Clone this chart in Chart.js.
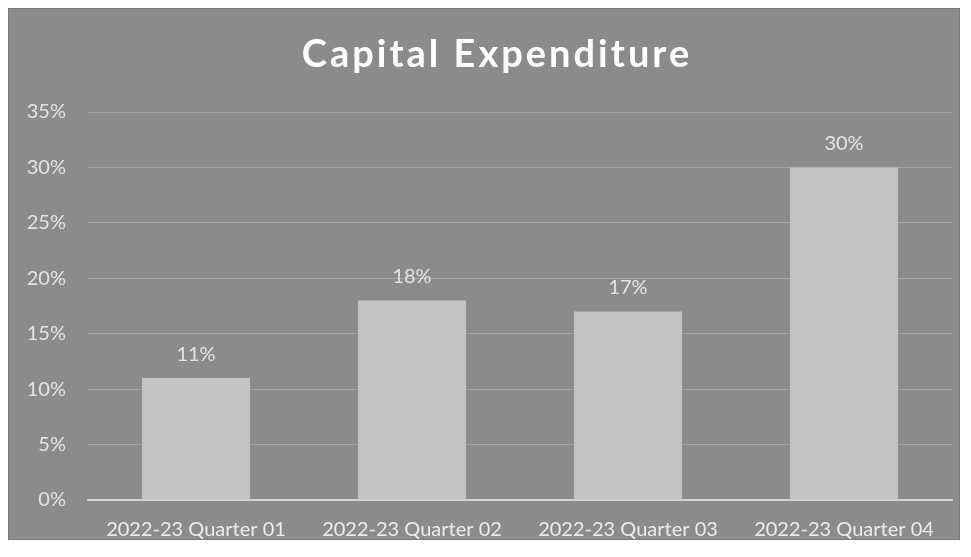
<!DOCTYPE html>
<html>
<head>
<meta charset="utf-8">
<script src="https://cdn.jsdelivr.net/npm/chart.js@4.4.0/dist/chart.umd.min.js"></script>
<style>
  html, body { margin: 0; padding: 0; background: #ffffff; }
  #panel {
    position: absolute; left: 8px; top: 8px;
    width: 952px; height: 532px;
    background: #8b8b8b;
    box-shadow: inset 0 0 0 1px #7a7a7a;
  }
  #panel canvas { display: block; }
</style>
</head>
<body>
<div id="panel"><canvas id="capex" width="952" height="532"></canvas></div>
<script>
const chartTitle = 'Capital Expenditure'
const quarters = ['2022-23 Quarter 01', '2022-23 Quarter 02', '2022-23 Quarter 03', '2022-23 Quarter 04']
const capexPct = [11, 18, 17, 30]
const yTicks = [0, 5, 10, 15, 20, 25, 30, 35]

const labelFont = 'Lato, "Open Sans", sans-serif'

// spaced-out bold heading over the plot
const heading = {
  id: 'heading',
  afterDraw(chart) {
    const ctx = chart.ctx
    ctx.save()
    ctx.font = 'bold 38px ' + labelFont
    ctx.letterSpacing = '3px'
    ctx.fillStyle = '#ffffff'
    ctx.textAlign = 'center'
    ctx.textBaseline = 'middle'
    ctx.fillText(chartTitle, 489, 47)
    ctx.restore()
  }
}

// value labels sitting above each bar
const barLabels = {
  id: 'barLabels',
  afterDatasetsDraw(chart) {
    const ctx = chart.ctx
    const meta = chart.getDatasetMeta(0)
    ctx.save()
    ctx.font = '20px ' + labelFont
    ctx.fillStyle = '#e4e4e4'
    ctx.textAlign = 'center'
    ctx.textBaseline = 'bottom'
    meta.data.forEach(function (bar, i) {
      ctx.fillText(capexPct[i] + '%', bar.x, bar.y - 14)
    })
    ctx.restore()
  }
}

new Chart(document.getElementById('capex'), {
  type: 'bar',
  data: {
    labels: quarters,
    datasets: [{
      data: capexPct,
      backgroundColor: '#c4c4c4',
      borderWidth: 0,
      categoryPercentage: 1,
      barPercentage: 0.5
    }]
  },
  options: {
    responsive: false,
    animation: false,
    devicePixelRatio: 1,
    layout: { padding: { left: 0, right: 8, top: 104, bottom: 0 } },
    plugins: {
      legend: { display: false },
      tooltip: { enabled: false },
      title: { display: false }
    },
    scales: {
      x: {
        afterFit(scale) { scale.height = 40 },
        grid: { display: false },
        border: { display: true, color: '#d4d4d4', width: 2 },
        ticks: {
          color: '#ececec',
          font: { family: labelFont, size: 20 },
          maxRotation: 0,
          padding: 10
        }
      },
      y: {
        min: 0,
        max: 35,
        afterFit(scale) { scale.width = 80 },
        afterBuildTicks(scale) { scale.ticks = yTicks.map(v => ({ value: v })) },
        grid: { color: 'rgba(200,200,200,0.45)', lineWidth: 1, drawTicks: false },
        border: { display: false },
        ticks: {
          color: '#e4e4e4',
          font: { family: labelFont, size: 20 },
          padding: 22,
          callback: v => v + '%'
        }
      }
    }
  },
  plugins: [barLabels, heading]
})
</script>
</body>
</html>
